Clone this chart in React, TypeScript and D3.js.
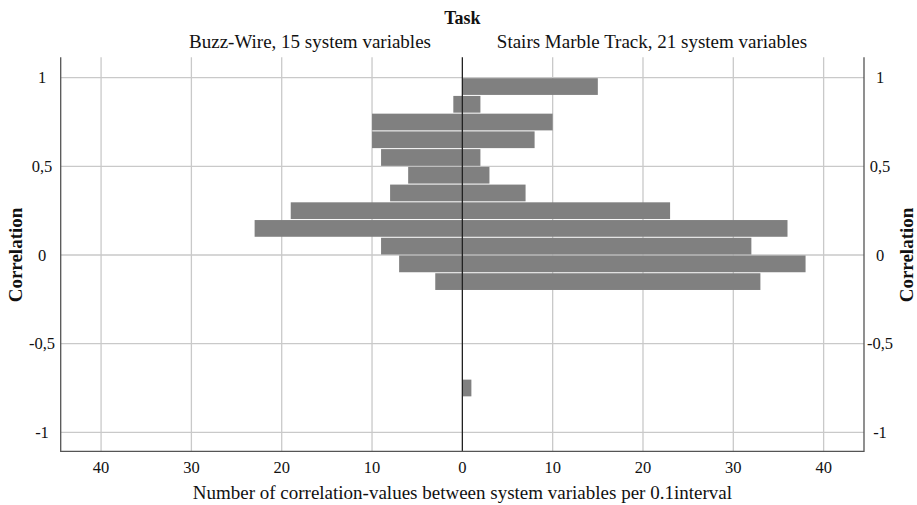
import React, { useEffect, useRef } from 'react';
import * as d3 from 'd3';

// lower bound of each 0.1 correlation interval
const binLower = [0.9, 0.8, 0.7, 0.6, 0.5, 0.4, 0.3, 0.2, 0.1, 0.0, -0.1, -0.2, -0.3, -0.4, -0.5, -0.6, -0.7, -0.8, -0.9, -1.0];
const buzzWire = [0, 1, 10, 10, 9, 6, 8, 19, 23, 9, 7, 3, 0, 0, 0, 0, 0, 0, 0, 0];
const stairsMarble = [15, 2, 10, 8, 2, 3, 7, 23, 36, 32, 38, 33, 0, 0, 0, 0, 0, 1, 0, 0];

const yTicks = [1, 0.5, 0, -0.5, -1];
const yTickLabels = ['1', '0,5', '0', '-0,5', '-1'];
const xTicks = [-40, -30, -20, -10, 0, 10, 20, 30, 40];

const title = 'Task';
const leftLabel = 'Buzz-Wire, 15 system variables';
const rightLabel = 'Stairs Marble Track, 21 system variables';
const xTitle = 'Number of correlation-values between system variables per 0.1interval';
const yTitle = 'Correlation';

const W = 917;
const H = 505;
const FONT = '"Liberation Serif", "DejaVu Serif", serif';

const App: React.FC = () => {
  const svgRef = useRef<SVGSVGElement>(null);

  useEffect(() => {
    if (!svgRef.current) return;
    const svg = d3.select(svgRef.current);
    svg.selectAll('*').remove();

    const left = 60.7, right = 864, top = 57.3, bottom = 451.3;
    const x = d3.scaleLinear().domain([-44.47, 44.47]).range([left, right]);
    const y = d3.scaleLinear().domain([-1.107, 1.115]).range([bottom, top]);

    // grid
    const grid = svg.append('g');
    grid.selectAll('line.v')
      .data(xTicks.filter(d => d !== 0))
      .join('line')
      .attr('x1', d => x(d)).attr('x2', d => x(d))
      .attr('y1', top).attr('y2', bottom)
      .attr('stroke', '#c9c9c9').attr('stroke-width', 1.3);
    grid.selectAll('line.h')
      .data(yTicks)
      .join('line')
      .attr('x1', left).attr('x2', right)
      .attr('y1', d => y(d)).attr('y2', d => y(d))
      .attr('stroke', '#c9c9c9').attr('stroke-width', 1.3);

    // bars
    const bars = svg.append('g').attr('fill', '#808080');
    const rows = binLower.map((lo, i) => ({ lo, buzz: buzzWire[i], stairs: stairsMarble[i] }));
    bars.selectAll('rect.l')
      .data(rows.filter(d => d.buzz > 0))
      .join('rect')
      .attr('x', d => x(-d.buzz))
      .attr('width', d => x(0) - x(-d.buzz))
      .attr('y', d => y(d.lo + 0.1) + 0.5)
      .attr('height', d => y(d.lo) - y(d.lo + 0.1) - 1);
    bars.selectAll('rect.r')
      .data(rows.filter(d => d.stairs > 0))
      .join('rect')
      .attr('x', x(0))
      .attr('width', d => x(d.stairs) - x(0))
      .attr('y', d => y(d.lo + 0.1) + 0.5)
      .attr('height', d => y(d.lo) - y(d.lo + 0.1) - 1);

    // center line
    svg.append('line')
      .attr('x1', x(0)).attr('x2', x(0)).attr('y1', top).attr('y2', bottom)
      .attr('stroke', '#222').attr('stroke-width', 1.3);

    // axis lines
    svg.append('path')
      .attr('d', `M${left},${top}V${bottom}H${right}V${top}`)
      .attr('fill', 'none').attr('stroke', '#555').attr('stroke-width', 1.3);

    const text = svg.append('g').attr('font-family', FONT).attr('fill', '#111');

    // y tick labels
    text.selectAll('text.yl')
      .data(yTicks)
      .join('text')
      .attr('x', 42).attr('y', d => y(d))
      .attr('dy', '0.35em').attr('text-anchor', 'middle')
      .attr('font-size', 16.5)
      .text((_, i) => yTickLabels[i]);
    text.selectAll('text.yr')
      .data(yTicks)
      .join('text')
      .attr('x', 880).attr('y', d => y(d))
      .attr('dy', '0.35em').attr('text-anchor', 'middle')
      .attr('font-size', 16.5)
      .text((_, i) => yTickLabels[i]);

    // x tick labels
    text.selectAll('text.xl')
      .data(xTicks)
      .join('text')
      .attr('x', d => x(d)).attr('y', 473)
      .attr('text-anchor', 'middle')
      .attr('font-size', 16.5)
      .text(d => String(Math.abs(d)));

    // titles
    text.append('text')
      .attr('x', x(0)).attr('y', 24)
      .attr('text-anchor', 'middle').attr('font-weight', 'bold').attr('font-size', 18)
      .text(title);
    text.append('text')
      .attr('x', 310).attr('y', 48)
      .attr('text-anchor', 'middle').attr('font-size', 19)
      .text(leftLabel);
    text.append('text')
      .attr('x', 652).attr('y', 48)
      .attr('text-anchor', 'middle').attr('font-size', 19)
      .text(rightLabel);
    text.append('text')
      .attr('x', x(0)).attr('y', 499)
      .attr('text-anchor', 'middle').attr('font-size', 19)
      .text(xTitle);

    text.append('text')
      .attr('transform', `translate(22,${y(0)}) rotate(-90)`)
      .attr('text-anchor', 'middle').attr('font-weight', 'bold').attr('font-size', 19)
      .text(yTitle);
    text.append('text')
      .attr('transform', `translate(913,${y(0)}) rotate(-90)`)
      .attr('text-anchor', 'middle').attr('font-weight', 'bold').attr('font-size', 19)
      .text(yTitle);
  }, []);

  return (
    <svg
      ref={svgRef}
      width={W}
      height={H}
      style={{ position: 'absolute', left: 0, top: 0, background: '#fff' }}
    />
  );
};

export default App;
